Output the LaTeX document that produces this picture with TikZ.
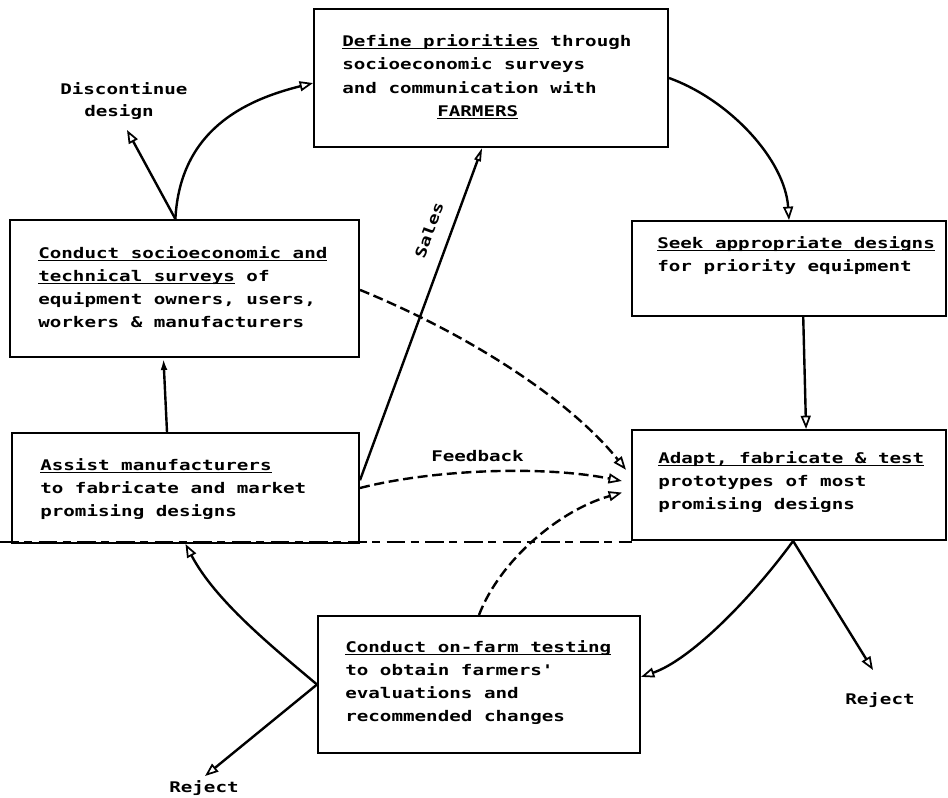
\documentclass[tikz,border=0pt]{standalone}
\usepackage{fontspec}
\newfontfamily\tw[FakeStretch=1.31]{DejaVu Sans Mono}
\usetikzlibrary{arrows.meta,calc,fit}
\newsavebox\ulbox
\newcommand\ulx[1]{\sbox\ulbox{#1}\rlap{\rule[-2.4pt]{\wd\ulbox}{1.1pt}}\usebox\ulbox}
\begin{document}
\begin{tikzpicture}[x=0.75pt,y=-0.75pt,
  box/.style={draw,line width=1.5pt,inner sep=0pt},
  txt/.style={anchor=base west,inner sep=0pt,font=\tw\bfseries\fontsize{11pt}{13pt}\selectfont\frenchspacing},
  conn/.style={line width=1.8pt},
  dsh/.style={line width=1.8pt,dash pattern=on 7.5pt off 3.5pt},
  oarr/.style={-{Triangle[open,length=10pt,width=7.5pt,line width=1.3pt]}},
  narr/.style={-{Triangle[open,length=10pt,width=5pt,line width=1.3pt]}},
  farr/.style={-{Latex[length=9pt,width=5pt]}}]
\useasboundingbox (0,0) rectangle (948,797);

% scan fold line
\draw[line width=0.9pt,dash pattern=on 14pt off 4pt on 6pt off 5pt] (0,542) -- (632,542);

% boxes
\node[box,fit={(314,9) (668,147)}] (top) {};
\node[box,fit={(10,220) (359,357)}] (conduct) {};
\node[box,fit={(12,433) (359,543)}] (assist) {};
\node[box,fit={(318,616) (640,753)}] (farm) {};
\node[box,fit={(632,221) (946,316)}] (seek) {};
\node[box,fit={(632,430) (946,540)}] (adapt) {};

% texts
\node[txt] (t1) at (342,46) {\ulx{Define priorities} through};
\node[txt] (t2) at (342,69.5) {socioeconomic surveys};
\node[txt] (t3) at (342,93) {and communication with};
\node[txt] (t4) at (437,116) {\ulx{FARMERS}};

\node[txt] (c1) at (38,258) {\ulx{Conduct socioeconomic and}};
\node[txt] (c2) at (38,281) {\ulx{technical surveys} of};
\node[txt] (c3) at (38,304) {equipment owners, users,};
\node[txt] (c4) at (38,327) {workers \& manufacturers};

\node[txt] (a1) at (40,470) {\ulx{Assist manufacturers}};
\node[txt] (a2) at (40,493) {to fabricate and market};
\node[txt] (a3) at (40,516) {promising designs};

\node[txt] (f1) at (345,652) {\ulx{Conduct on-farm testing}};
\node[txt] (f2) at (345,675) {to obtain farmers\textquotesingle};
\node[txt] (f3) at (345,698) {evaluations and};
\node[txt] (f4) at (345,721) {recommended changes};

\node[txt] (s1) at (657,248) {\ulx{Seek appropriate designs}};
\node[txt] (s2) at (657,271) {for priority equipment};

\node[txt] (d1) at (658,463) {\ulx{Adapt, fabricate \& test}};
\node[txt] (d2) at (658,486) {prototypes of most};
\node[txt] (d3) at (658,509) {promising designs};

\node[txt] (disc1) at (60,94) {Discontinue};
\node[txt] (disc2) at (84,116) {design};
\node[txt] (rejR) at (845,704) {Reject};
\node[txt] (rejL) at (169,792) {Reject};
\node[txt] (fb) at (431,461) {Feedback};
\node[txt,anchor=center,rotate=70] (sales) at (429,230) {Sales};

% free ends
\coordinate (discTip) at (127,130);
\coordinate (rejRTip) at (873,670);
\coordinate (rejLTip) at (205,776);

% connectors
\coordinate (cTop) at ($(conduct.north west)!0.474!(conduct.north east)$);
\draw[conn,oarr] (cTop) -- (discTip);
\draw[conn,oarr] (cTop) .. controls (180,130) and (245,100) .. ($(top.north west)!0.536!(top.south west)$);
\draw[conn,oarr] (top.east) .. controls (730,100) and (785,160) .. (seek.north);
\draw[conn,oarr] ($(seek.south west)!0.545!(seek.south east)$) -- ($(adapt.north west)!0.554!(adapt.north east)$);
\coordinate (aBot) at ($(adapt.south west)!0.513!(adapt.south east)$);
\draw[conn,oarr] (aBot) .. controls (750,600) and (690,660) .. ($(farm.north east)!0.445!(farm.south east)$);
\draw[conn,oarr] (aBot) -- (rejRTip);
\draw[conn,oarr] (farm.west) .. controls (270,645) and (215,600) .. (assist.south);
\draw[conn,oarr] (farm.west) -- (rejLTip);
\draw[conn,farr] ($(assist.north west)!0.447!(assist.north east)$) -- ($(conduct.south west)!0.44!(conduct.south east)$);
\draw[conn,narr] ($(assist.north east)!0.43!(assist.south east)$) -- ($(top.south west)!0.475!(top.south east)$);
\draw[dsh,oarr,shorten >=6pt] ($(conduct.north east)!0.51!(conduct.south east)$) .. controls (470,335) and (570,400) .. ($(adapt.north west)!0.42!(adapt.south west)$);
\draw[dsh,oarr,shorten >=7pt] (assist.east) .. controls (430,470) and (540,465) .. ($(adapt.north west)!0.48!(adapt.south west)$);
\draw[dsh,oarr,shorten >=7pt] (farm.north) .. controls (500,560) and (560,510) .. ($(adapt.north west)!0.545!(adapt.south west)$);
\end{tikzpicture}
\end{document}
